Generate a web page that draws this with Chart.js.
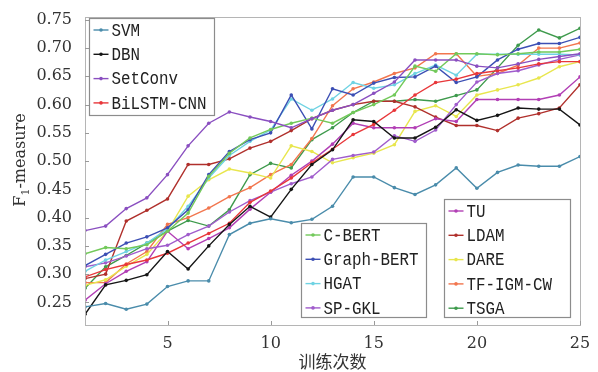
<!DOCTYPE html>
<html>
<head>
    <meta charset="utf-8">
    <title>F1-measure 训练次数</title>
    <script src="https://cdn.jsdelivr.net/npm/chart.js"></script>
    <style>
        html, body { margin: 0; padding: 0; background: #fff; }
    </style>
</head>
<body>
<canvas id="f1Chart" width="598" height="372"></canvas>
<script>
    // training epochs and axis ticks
    var epochs = [1, 2, 3, 4, 5, 6, 7, 8, 9, 10, 11, 12, 13, 14, 15, 16, 17, 18, 19, 20, 21, 22, 23, 24, 25];
    var xTicks = [5, 10, 15, 20, 25];
    var yTicks = [0.25, 0.30, 0.35, 0.40, 0.45, 0.50, 0.55, 0.60, 0.65, 0.70, 0.75];

    // F1-measure per method
    var svm       = [0.242, 0.248, 0.238, 0.247, 0.278, 0.288, 0.288, 0.370, 0.390, 0.398, 0.391, 0.397, 0.420, 0.472, 0.472, 0.453, 0.441, 0.458, 0.488, 0.452, 0.480, 0.493, 0.491, 0.491, 0.508];
    var dbn       = [0.229, 0.281, 0.289, 0.299, 0.340, 0.309, 0.350, 0.388, 0.420, 0.401, 0.450, 0.494, 0.520, 0.573, 0.570, 0.541, 0.541, 0.560, 0.591, 0.572, 0.581, 0.594, 0.592, 0.592, 0.564];
    var setConv   = [0.377, 0.385, 0.416, 0.435, 0.476, 0.527, 0.567, 0.587, 0.578, 0.570, 0.559, 0.575, 0.590, 0.600, 0.620, 0.640, 0.679, 0.679, 0.679, 0.668, 0.665, 0.672, 0.680, 0.685, 0.690];
    var bilstmCnn = [0.295, 0.308, 0.317, 0.325, 0.337, 0.355, 0.372, 0.390, 0.427, 0.447, 0.470, 0.497, 0.521, 0.547, 0.565, 0.590, 0.617, 0.639, 0.645, 0.655, 0.660, 0.665, 0.672, 0.676, 0.676];
    var cBert     = [0.336, 0.347, 0.345, 0.352, 0.376, 0.408, 0.473, 0.514, 0.541, 0.556, 0.567, 0.576, 0.567, 0.586, 0.600, 0.617, 0.668, 0.659, 0.690, 0.690, 0.688, 0.690, 0.693, 0.693, 0.698];
    var graphBert = [0.315, 0.335, 0.355, 0.366, 0.382, 0.414, 0.476, 0.517, 0.538, 0.550, 0.617, 0.557, 0.628, 0.617, 0.638, 0.648, 0.649, 0.668, 0.639, 0.649, 0.679, 0.698, 0.708, 0.708, 0.719];
    var hgat      = [0.305, 0.325, 0.340, 0.355, 0.380, 0.420, 0.470, 0.510, 0.535, 0.555, 0.610, 0.590, 0.610, 0.639, 0.629, 0.635, 0.655, 0.670, 0.652, 0.689, 0.689, 0.689, 0.689, 0.689, 0.688];
    var spGkl     = [0.313, 0.320, 0.332, 0.345, 0.351, 0.370, 0.385, 0.410, 0.430, 0.445, 0.460, 0.472, 0.503, 0.510, 0.516, 0.545, 0.535, 0.555, 0.600, 0.640, 0.655, 0.660, 0.670, 0.680, 0.688];
    var tu        = [0.254, 0.283, 0.305, 0.322, 0.376, 0.345, 0.363, 0.382, 0.415, 0.445, 0.475, 0.500, 0.530, 0.567, 0.559, 0.559, 0.559, 0.575, 0.570, 0.609, 0.609, 0.609, 0.609, 0.617, 0.649];
    var ldam      = [0.292, 0.300, 0.394, 0.413, 0.433, 0.494, 0.494, 0.504, 0.523, 0.535, 0.554, 0.575, 0.590, 0.600, 0.606, 0.606, 0.596, 0.578, 0.563, 0.563, 0.554, 0.576, 0.584, 0.594, 0.635];
    var dare      = [0.280, 0.290, 0.314, 0.335, 0.376, 0.438, 0.467, 0.486, 0.479, 0.470, 0.527, 0.517, 0.497, 0.506, 0.514, 0.529, 0.588, 0.598, 0.579, 0.617, 0.626, 0.635, 0.647, 0.667, 0.676];
    var tfIgmCw   = [0.285, 0.285, 0.318, 0.340, 0.388, 0.400, 0.417, 0.437, 0.453, 0.476, 0.494, 0.540, 0.598, 0.628, 0.640, 0.655, 0.665, 0.690, 0.690, 0.650, 0.655, 0.670, 0.700, 0.700, 0.709];
    var tsga      = [0.275, 0.313, 0.333, 0.355, 0.376, 0.395, 0.385, 0.414, 0.476, 0.496, 0.488, 0.538, 0.559, 0.586, 0.606, 0.606, 0.609, 0.606, 0.616, 0.626, 0.665, 0.705, 0.732, 0.718, 0.735];

    var seriesNames = ['SVM', 'DBN', 'SetConv', 'BiLSTM-CNN', 'C-BERT', 'Graph-BERT', 'HGAT', 'SP-GKL',
                       'TU', 'LDAM', 'DARE', 'TF-IGM-CW', 'TSGA'];
    var seriesValues = [svm, dbn, setConv, bilstmCnn, cBert, graphBert, hgat, spGkl, tu, ldam, dare, tfIgmCw, tsga];
    var seriesColors = ['#4a8cab', '#151515', '#8a4fc0', '#e8373a', '#72c95a', '#3c4fb4', '#6fd3e3', '#a05ccc',
                        '#b23fb5', '#b0302c', '#e8e64e', '#f2764e', '#3e9a4c'];

    // three legend boxes inside the plot, each lists a group of series
    var legendGroups = [[0, 1, 2, 3], [4, 5, 6, 7], [8, 9, 10, 11, 12]];
    var legendBoxes = [
        {dx: 4, dy: 1, w: 125, h: 97},
        {dx: 216, dy: 206, w: 125, h: 94},
        {dx: 359, dy: 182, w: 126, h: 118}
    ];

    var datasets = [];
    for (var i = 0; i < seriesNames.length; i++) {
        var pts = [];
        for (var j = 0; j < epochs.length; j++) {
            pts.push({x: epochs[j], y: seriesValues[i][j]});
        }
        datasets.push({
            label: seriesNames[i],
            data: pts,
            borderColor: seriesColors[i],
            backgroundColor: seriesColors[i],
            borderWidth: 1.4,
            pointRadius: 1.8,
            pointBorderWidth: 0,
            tension: 0
        });
    }

    var framePlugin = {
        id: 'frame',
        afterDatasetsDraw: function (chart) {
            var ctx = chart.ctx;
            var a = chart.chartArea;
            var xs = chart.scales.x;
            var ys = chart.scales.y;
            ctx.save();

            // box round the plot
            ctx.strokeStyle = '#b5b5b5';
            ctx.lineWidth = 1;
            ctx.strokeRect(Math.round(a.left) + 0.5, Math.round(a.top) + 0.5,
                Math.round(a.right - a.left), Math.round(a.bottom - a.top));

            // inward tick marks
            ctx.strokeStyle = '#9a9a9a';
            ctx.beginPath();
            xTicks.forEach(function (v) {
                var px = Math.round(xs.getPixelForValue(v)) + 0.5;
                ctx.moveTo(px, a.bottom);
                ctx.lineTo(px, a.bottom - 4);
            });
            yTicks.forEach(function (v) {
                var py = Math.round(ys.getPixelForValue(v)) + 0.5;
                ctx.moveTo(a.left, py);
                ctx.lineTo(a.left + 4, py);
            });
            ctx.stroke();

            // y axis title with a real subscript
            ctx.save();
            ctx.translate(21, a.top + 143);
            ctx.rotate(-Math.PI / 2);
            ctx.fillStyle = '#333333';
            ctx.textBaseline = 'middle';
            var big = '16px "DejaVu Serif", serif';
            var small = '11px "DejaVu Serif", serif';
            ctx.font = big;
            var wF = ctx.measureText('F').width;
            var wRest = ctx.measureText('-measure').width;
            ctx.font = small;
            var w1 = ctx.measureText('1').width;
            var x0 = -(wF + w1 + wRest) / 2;
            ctx.font = big;
            ctx.fillText('F', x0, 0);
            ctx.font = small;
            ctx.fillText('1', x0 + wF, 5);
            ctx.font = big;
            ctx.fillText('-measure', x0 + wF + w1, 0);
            ctx.restore();

            // legends
            ctx.textBaseline = 'middle';
            legendBoxes.forEach(function (box, k) {
                var left = Math.round(a.left + box.dx) + 0.5;
                var top = Math.round(a.top + box.dy) + 0.5;
                ctx.fillStyle = '#ffffff';
                ctx.fillRect(left, top, box.w, box.h);
                ctx.strokeStyle = '#8c8c8c';
                ctx.lineWidth = 1.2;
                ctx.strokeRect(left, top, box.w, box.h);
                legendGroups[k].forEach(function (idx, row) {
                    var y = top + 11.5 + row * 24.3;
                    ctx.strokeStyle = seriesColors[idx];
                    ctx.lineWidth = 1.4;
                    ctx.beginPath();
                    ctx.moveTo(left + 4, y);
                    ctx.lineTo(left + 19, y);
                    ctx.stroke();
                    ctx.fillStyle = seriesColors[idx];
                    ctx.beginPath();
                    ctx.arc(left + 11.5, y, 1.8, 0, Math.PI * 2);
                    ctx.fill();
                    // tall, narrow label text
                    ctx.save();
                    ctx.translate(left + 22, y + 1);
                    ctx.scale(0.88, 1);
                    ctx.font = '18px "Liberation Mono", "DejaVu Sans Mono", monospace';
                    ctx.fillStyle = '#222222';
                    ctx.fillText(seriesNames[idx], 0, 0);
                    ctx.restore();
                });
            });
            ctx.restore();
        }
    };

    var ctx = document.getElementById('f1Chart');
    var f1Chart = new Chart(ctx, {
        type: 'line',
        data: {datasets: datasets},
        options: {
            responsive: false,
            animation: false,
            layout: {padding: {top: 17, right: 18, left: 0, bottom: 0}},
            scales: {
                x: {
                    type: 'linear',
                    min: 1,
                    max: 25,
                    afterBuildTicks: function (scale) {
                        scale.ticks = xTicks.map(function (v) { return {value: v}; });
                    },
                    afterFit: function (scale) { scale.height = 47; },
                    grid: {display: false},
                    border: {display: false},
                    ticks: {
                        padding: 1,
                        color: '#333',
                        maxRotation: 0,
                        font: {family: '"DejaVu Serif", serif', size: 16}
                    },
                    title: {
                        display: true,
                        text: '训练次数',
                        color: '#333',
                        padding: {top: 0, bottom: 0},
                        font: {family: '"Noto Sans CJK SC", sans-serif', size: 17}
                    }
                },
                y: {
                    min: 0.21,
                    max: 0.755,
                    afterBuildTicks: function (scale) {
                        scale.ticks = yTicks.map(function (v) { return {value: v}; });
                    },
                    afterFit: function (scale) { scale.width = 85; },
                    grid: {display: false},
                    border: {display: false},
                    ticks: {
                        padding: 5,
                        color: '#333',
                        font: {family: '"DejaVu Serif", serif', size: 16},
                        callback: function (v) { return v.toFixed(2); }
                    }
                }
            },
            plugins: {
                legend: {display: false},
                tooltip: {enabled: false}
            }
        },
        plugins: [framePlugin]
    });
</script>
</body>
</html>
